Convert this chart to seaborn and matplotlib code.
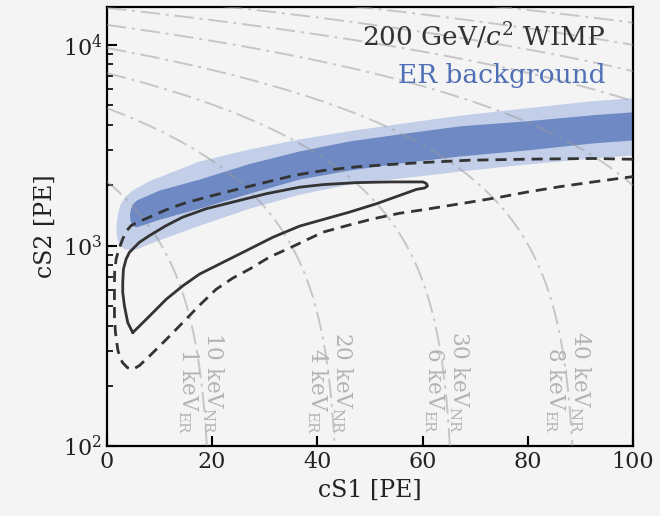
import numpy as np
import matplotlib
matplotlib.use('Agg')
import matplotlib.pyplot as plt
from matplotlib.path import Path
import seaborn as sns

# =============================================================================
# Data (cS1 [PE], cS2 [PE])
# =============================================================================

# ER background band, light (outer) region - closed outline
er_outer_s1 = [3.33, 2.38, 1.90, 1.81, 2.00, 2.57, 3.52, 4.85, 6.37, 8.09,
               17.60, 27.12, 36.63, 46.15, 55.66, 67.08, 79.83, 92.39, 100.0,
               100.0, 92.39, 79.83, 67.08, 60.04, 47.48, 36.63, 27.12, 17.60, 8.09,
               6.18, 4.66]
er_outer_s2 = [963, 1009, 1106, 1242, 1393, 1600, 1754, 1880, 1980, 2097,
               2627, 3015, 3383, 3720, 4040, 4440, 4838, 5244, 5429,
               2813, 2719, 2537, 2340, 2222, 2049, 1795, 1528, 1256, 1020,
               969, 947]

# ER background band, dark (inner) region - closed outline
er_inner_s1 = [5.61, 4.85, 4.47, 4.38, 4.57, 5.04, 5.80, 7.14, 9.99, 17.60,
               27.12, 36.63, 46.15, 55.66, 67.08, 79.83, 92.39, 100.0,
               100.0, 92.39, 79.83, 67.08, 55.66, 46.15, 36.63, 27.12, 17.60, 9.99,
               7.14]
er_inner_s2 = [1234, 1256, 1330, 1425, 1528, 1618, 1685, 1744, 1880, 2134,
               2552, 2947, 3306, 3584, 3930, 4164, 4464, 4619,
               3344, 3231, 2981, 2782, 2567, 2367, 2134, 1815, 1528, 1346,
               1270]

# 200 GeV WIMP, inner (solid) contour - closed
wimp_in_s1 = [4.91, 3.96, 3.33, 3.01, 3.01, 3.14, 3.65, 4.28, 4.91, 6.18,
              8.09, 11.27, 14.42, 18.88, 23.94, 30.29, 36.63, 41.07, 47.42, 53.76,
              60.10, 60.74, 60.93, 60.42, 58.84, 55.66, 51.23, 46.15, 41.07, 36.63,
              31.55, 27.12, 22.68, 17.60, 14.42, 11.27, 8.09, 6.18, 4.91]
wimp_in_s2 = [369, 414, 501, 585, 656, 765, 858, 927, 963, 1040,
              1123, 1260, 1388, 1528, 1650, 1815, 1957, 2015, 2061, 2078,
              2078, 2038, 1984, 1939, 1908, 1780, 1618, 1471, 1350, 1252,
              1102, 963, 842, 722, 631, 541, 446, 398, 369]

# 200 GeV WIMP, outer (dashed) contour - open, leaves the frame at cS1 = 100
wimp_out_s1 = [100.0, 92.45, 79.77, 68.98, 60.10, 53.76, 47.42, 41.07, 35.68, 30.29,
               23.94, 18.88, 14.42, 11.27, 8.09, 6.18, 4.61, 3.71, 3.01, 2.28,
               1.75, 1.48, 1.43, 1.43, 1.43, 1.62, 2.06, 2.47, 3.01, 3.90,
               4.91, 6.18, 8.09, 11.27, 14.42, 17.60, 20.78, 23.94, 27.12, 30.92,
               34.73, 41.07, 46.15, 50.58, 55.66, 60.10, 68.98, 74.69, 79.77, 86.11,
               92.45, 100.0]
wimp_out_s2 = [2694, 2719, 2697, 2666, 2596, 2537, 2471, 2367, 2243, 2073,
               1886, 1744, 1618, 1510, 1388, 1322, 1260, 1185, 1081, 963,
               858, 747, 656, 541, 446, 370, 304, 277, 261, 247,
               242, 253, 282, 341, 414, 505, 607, 690, 765, 878,
               974, 1168, 1270, 1361, 1451, 1510, 1647, 1744, 1848, 1968,
               2078, 2209]

# iso-energy lines: straight in linear cS1-cS2 space, given by two end points
iso_nr_kev = [10, 20, 30, 40, 50, 60, 70, 80, 90, 100]
iso_start_s1 = [0, 0, 0, 0, 0, 0, 0, 0, 0, 0]
iso_start_s2 = [2090, 4840, 7240, 9660, 12590, 15300, 17900, 20500, 23100, 25700]
iso_end_s1 = [19.0, 43.3, 65.2, 88.5, 100, 100, 100, 100, 100, 100]
iso_end_s2 = [100, 100, 100, 100, 1995, 5250, 7400, 10000, 12900, 15500]

# labels of the iso-energy lines
label_nr_kev = [10, 20, 30, 40]
label_er_kev = [1, 4, 6, 8]
label_s1 = [17.9, 42.4, 64.6, 87.6]
label_s2 = [372, 372, 375, 375]

# =============================================================================
# Style
# =============================================================================
sns.set_theme(style='ticks')
bg = '#f4f4f4'
plt.rcParams['font.family'] = ['DejaVu Serif']
plt.rcParams['mathtext.fontset'] = 'dejavuserif'
plt.rcParams['figure.facecolor'] = bg
plt.rcParams['axes.facecolor'] = bg

fig = plt.figure(figsize=(6.6, 5.16), dpi=100)
ax = fig.add_axes([0.162, 0.1347, 0.797, 0.8523])

# ER band
ax.fill(er_outer_s1, er_outer_s2, color='#c3cfe8', lw=0, zorder=1)
ax.fill(er_inner_s1, er_inner_s2, color='#6e89c4', lw=0, zorder=2)

# iso-energy lines
for a1, a2, b1, b2 in zip(iso_start_s1, iso_start_s2, iso_end_s1, iso_end_s2):
    seg = Path([[a1, a2], [b1, b2]]).interpolated(200).vertices
    ax.plot(seg[:, 0], seg[:, 1], color='0.6', alpha=0.5, lw=1.4,
            ls=(0, (10, 3, 1.5, 3)), zorder=3)

for nr, er, x, y in zip(label_nr_kev, label_er_kev, label_s1, label_s2):
    ax.text(x, y, f'{nr} keV$_\\mathrm{{NR}}$\n{er} keV$_\\mathrm{{ER}}$',
            rotation=270, ha='center', va='top', fontsize=15.5,
            multialignment='right', color='0.7', linespacing=1.0, zorder=4)

# WIMP contours
sns.lineplot(x=wimp_in_s1, y=wimp_in_s2, sort=False, estimator=None, ax=ax,
             color='#333333', lw=2, zorder=5)
sns.lineplot(x=wimp_out_s1, y=wimp_out_s2, sort=False, estimator=None, ax=ax,
             color='#333333', lw=2, ls=(0, (4, 2.5)), zorder=5)

ax.text(0.947, 0.910, '200 GeV/$c^2$ WIMP', transform=ax.transAxes,
        ha='right', va='baseline', fontsize=19, color='#333333', zorder=6)
ax.text(0.947, 0.826, 'ER background', transform=ax.transAxes,
        ha='right', va='baseline', fontsize=19, color='#4f70b5', zorder=6)

ax.set_yscale('log')
ax.set_xlim(0, 100)
ax.set_ylim(100, 1.55e4)
ax.set_xticks([0, 20, 40, 60, 80, 100])
ax.set_xlabel('cS1 [PE]', fontsize=17, color='#222222')
ax.set_ylabel('cS2 [PE]', fontsize=17, color='#222222')
ax.tick_params(which='both', direction='in', top=False, right=False,
               labelsize=16, colors='black', labelcolor='#222222')
ax.tick_params(which='major', length=7, width=1.5)
ax.tick_params(which='minor', length=4, width=1.2)
ax.tick_params(axis='x', which='minor', bottom=False)
for sp in ax.spines.values():
    sp.set_linewidth(1.6)
    sp.set_color('black')

plt.savefig('out.png', dpi=100, facecolor=bg)
